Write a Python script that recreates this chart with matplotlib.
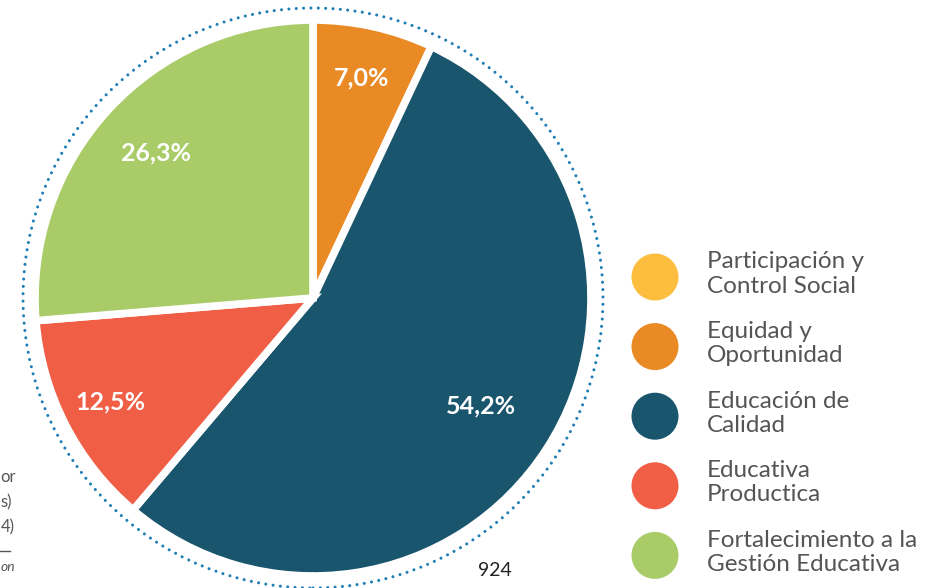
import matplotlib.pyplot as plt
from matplotlib.patches import Circle
import numpy as np

plt.rcParams['font.family'] = ['Lato', 'DejaVu Sans']

# datos del gráfico
categorias = ['Participación y\nControl Social', 'Equidad y\nOportunidad',
              'Educación de\nCalidad', 'Educativa\nProductica',
              'Fortalecimiento a la\nGestión Educativa']
porcentajes = [0.0, 7.0, 54.2, 12.5, 26.3]
colores = ['#FDBE40', '#EA8A25', '#1A556E', '#EF5E45', '#A9CB68']
etiquetas = ['', '7,0%', '54,2%', '12,5%', '26,3%']
dist_etiqueta = [0, 0.81, 0.72, 0.82, 0.77]

fig = plt.figure(figsize=(9.38, 5.88), dpi=100)
ax = fig.add_axes([0, 0, 1, 1])

cx, cy, R = 313, 290, 278
wedges, _ = ax.pie(porcentajes, colors=colores, startangle=90, counterclock=False,
                   radius=R, center=(cx, cy),
                   wedgeprops=dict(edgecolor='white', linewidth=5.5))

for w, txt, d in zip(wedges, etiquetas, dist_etiqueta):
    if not txt:
        continue
    ang = np.deg2rad((w.theta1 + w.theta2) / 2)
    ax.text(cx + d * R * np.cos(ang), cy + d * R * np.sin(ang), txt,
            color='white', fontsize=18, fontweight='bold', ha='center', va='center')

# círculo punteado
ax.add_patch(Circle((cx, cy), 290, fill=False, edgecolor='#1E7DB5', linewidth=2.2,
                    linestyle=(0, (0.01, 2.4)), capstyle='round'))

# leyenda
for i, (cat, col) in enumerate(zip(categorias, colores)):
    y = 588 - (277 + i * 69.6)
    ax.add_patch(Circle((655, y), 23.5, color=col, linewidth=0))
    ax.text(707, y + 3, cat, fontsize=17.5, color='#555555', ha='left', va='center',
            linespacing=1.2)

# fragmentos de texto recortados a la izquierda
for y, t in zip([477, 502, 527], ['or', 's)', '4)']):
    ax.text(0.5, 588 - y, t, fontsize=12, color='#555555', ha='left', va='center')
ax.plot([0, 10], [588 - 551, 588 - 551], color='#555555', linewidth=1)
ax.text(0.5, 588 - 567, 'on', fontsize=10, color='#555555', ha='left', va='center',
        style='italic')

ax.text(495, 588 - 571, '924', fontsize=14, color='#222222', ha='center', va='center')

ax.set_xlim(0, 938)
ax.set_ylim(0, 588)
ax.axis('off')

plt.savefig('out.png', dpi=100)
